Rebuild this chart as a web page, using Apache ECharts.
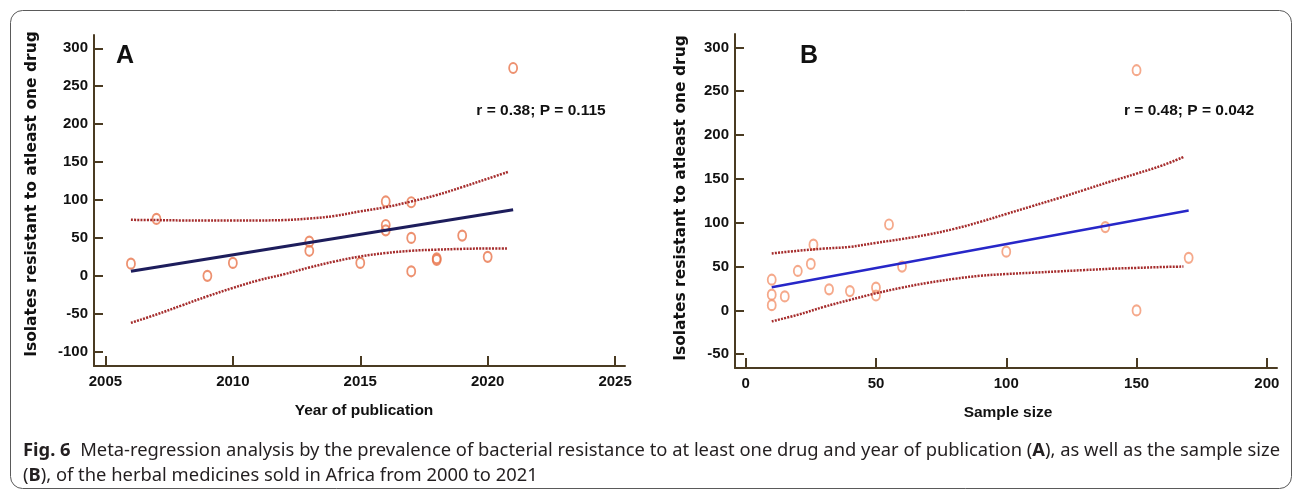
<!DOCTYPE html>
<html>
<head>
<meta charset="utf-8">
<script src="https://cdn.jsdelivr.net/npm/echarts@6/dist/echarts.min.js"></script>
<style>
html,body{margin:0;padding:0;background:#fff;}
#c{width:1296px;height:490px;}
</style>
</head>
<body>
<div id="c"></div>
<script>
// ---- Panel A: year of publication ----
const yearA    = [2006, 2007, 2009, 2010, 2013, 2013, 2015, 2016, 2016, 2016, 2017, 2017, 2017, 2018, 2018, 2019, 2020, 2021];
const resistA  = [16, 75, 0, 17, 45, 33, 17, 98, 67, 60, 97, 50, 6, 23, 21, 53, 25, 274];
const fitXA    = [2006, 2021];
const fitYA    = [6, 87];
const ciXA     = [2006, 2007, 2008, 2009, 2010, 2011, 2012, 2013, 2014, 2015, 2016, 2017, 2018, 2019, 2020, 2020.8];
const ciUpperA = [73.8, 73.5, 73, 72.8, 72.8, 73, 73.5, 75.5, 79, 85, 90.5, 98, 106.5, 117, 128, 137];
const ciLowerA = [-62, -51, -39, -27, -16, -6, 2, 11, 19, 25.5, 30, 33, 34.5, 35.5, 36, 36];
const xTicksA  = [2005, 2010, 2015, 2020, 2025];
const yTicksA  = [-100, -50, 0, 50, 100, 150, 200, 250, 300];

// ---- Panel B: sample size ----
const sizeB    = [10, 10, 10, 15, 20, 25, 26, 32, 40, 50, 50, 55, 60, 100, 138, 150, 150, 170];
const resistB  = [35, 18, 6, 16, 45, 53, 75, 24, 22, 26, 17, 98, 50, 67, 95, 0, 274, 60];
const fitXB    = [10, 170];
const fitYB    = [26.5, 114];
const ciXB     = [10, 20, 30, 40, 50, 60, 70, 80, 90, 100, 110, 120, 130, 140, 150, 160, 168];
const ciUpperB = [65, 68, 70.5, 72.5, 77, 81.5, 86.5, 93, 101, 110, 119, 128, 137.5, 147, 156, 165.5, 175];
const ciLowerB = [-12.5, -5, 4, 12, 19.5, 26, 31.5, 36, 39.5, 41.5, 43, 44.5, 46, 47.5, 48.5, 49.5, 50];
const xTicksB  = [0, 50, 100, 150, 200];
const yTicksB  = [-50, 0, 50, 100, 150, 200, 250, 300];

const labelsA = {stat: 'r = 0.38; P = 0.115', xName: 'Year of publication', panel: 'A'};
const labelsB = {stat: 'r = 0.48; P = 0.042', xName: 'Sample size', panel: 'B'};
const yTitle = 'Isolates resistant to atleast one drug';
const caption1 = ['Fig. 6', '  Meta-regression analysis by the prevalence of bacterial resistance to at least one drug and year of publication (', 'A', '), as well as the sample size'];
const caption2 = ['(', 'B', '), of the herbal medicines sold in Africa from 2000 to 2021'];

const zip = (a, b) => a.map((v, i) => [v, b[i]]);

const axisColor = '#4a3b22';
const tickFont = {fontFamily: 'Liberation Sans, Arial, sans-serif', fontWeight: 'bold', fontSize: 15, color: '#111', formatter: v => String(v)};

function xAxisCfg(grid, min, max, ticks) {
  return {
    type: 'value', gridIndex: grid, min: min, max: max,
    axisLine: {show: true, onZero: false, lineStyle: {color: axisColor, width: 2}},
    axisTick: {show: true, inside: true, length: 10, customValues: ticks, lineStyle: {color: axisColor, width: 2}},
    axisLabel: Object.assign({customValues: ticks, margin: 8}, tickFont),
    splitLine: {show: false}
  };
}
function yAxisCfg(grid, min, max, ticks) {
  return {
    type: 'value', gridIndex: grid, min: min, max: max,
    axisLine: {show: true, onZero: false, lineStyle: {color: axisColor, width: 2}},
    axisTick: {show: true, inside: true, length: 9, customValues: ticks, lineStyle: {color: axisColor, width: 2}},
    axisLabel: Object.assign({customValues: ticks, margin: 6}, tickFont),
    splitLine: {show: false}
  };
}
function scatter(idx, xs, ys, color) {
  return {type: 'scatter', xAxisIndex: idx, yAxisIndex: idx, data: zip(xs, ys), symbol: 'circle', symbolSize: [8, 10],
    itemStyle: {color: 'rgba(0,0,0,0)', borderColor: color, borderWidth: 2}, z: 2, silent: true};
}
function line(idx, xs, ys, style, smooth) {
  return {type: 'line', xAxisIndex: idx, yAxisIndex: idx, data: zip(xs, ys), showSymbol: false, smooth: smooth ? 0.4 : false,
    lineStyle: style, z: 3, silent: true};
}
const ciStyle = {color: '#a52c2c', width: 2.5, type: [2, 1.2]};

// caption: fit the first line to the box width with a horizontal scale
const capFamily = 'Noto Sans';
const capSize = 17.5;
function measure(txt, weight) {
  const cv = document.createElement('canvas').getContext('2d');
  cv.font = weight + ' ' + capSize + 'px "' + capFamily + '", sans-serif';
  return cv.measureText(txt).width;
}
const w1 = measure(caption1[0], 'bold') + measure(caption1[1], 'normal') + measure(caption1[2], 'bold') + measure(caption1[3], 'normal');
const capScale = 1257 / w1;

const chart = echarts.init(document.getElementById('c'), null, {renderer: 'canvas'});
const capRich = {
  b: {fontWeight: 'bold', fontFamily: capFamily, fontSize: capSize, fill: '#231f20'},
  n: {fontWeight: 'normal', fontFamily: capFamily, fontSize: capSize, fill: '#231f20'}
};
chart.setOption({
  animation: false,
  backgroundColor: '#fff',
  grid: [
    {left: 94, top: 35, width: 531, height: 331},
    {left: 735, top: 34, width: 542, height: 334}
  ],
  xAxis: [xAxisCfg(0, 2004.55, 2025.39, xTicksA), xAxisCfg(1, -4.1, 203.9, xTicksB)],
  yAxis: [yAxisCfg(0, -118.9, 317.5, yTicksA), yAxisCfg(1, -65.7, 315.3, yTicksB)],
  series: [
    scatter(0, yearA, resistA, '#e8764c'),
    line(0, ciXA, ciUpperA, ciStyle, true),
    line(0, ciXA, ciLowerA, ciStyle, true),
    line(0, fitXA, fitYA, {color: '#1d1d5c', width: 3}, false),
    scatter(1, sizeB, resistB, '#f2946e'),
    line(1, ciXB, ciUpperB, ciStyle, true),
    line(1, ciXB, ciLowerB, ciStyle, true),
    line(1, fitXB, fitYB, {color: '#2727c8', width: 2.6}, false)
  ],
  graphic: [
    {type: 'rect', shape: {x: 10.5, y: 10.5, width: 1281, height: 478, r: 12}, style: {fill: 'none', stroke: '#5a5a5a', lineWidth: 1}, z: 0},
    {type: 'text', x: 125, y: 56, style: {text: labelsA.panel, fontFamily: 'Liberation Sans, Arial, sans-serif', fontWeight: 'bold', fontSize: 25, fill: '#111', align: 'center', verticalAlign: 'middle'}},
    {type: 'text', x: 809, y: 56, style: {text: labelsB.panel, fontFamily: 'Liberation Sans, Arial, sans-serif', fontWeight: 'bold', fontSize: 25, fill: '#111', align: 'center', verticalAlign: 'middle'}},
    {type: 'text', x: 541, y: 111, style: {text: labelsA.stat, fontFamily: 'Liberation Sans, Arial, sans-serif', fontWeight: 'bold', fontSize: 15.5, fill: '#111', align: 'center', verticalAlign: 'middle'}},
    {type: 'text', x: 1189, y: 111, style: {text: labelsB.stat, fontFamily: 'Liberation Sans, Arial, sans-serif', fontWeight: 'bold', fontSize: 15.5, fill: '#111', align: 'center', verticalAlign: 'middle'}},
    {type: 'text', x: 364, y: 411, style: {text: labelsA.xName, fontFamily: 'Liberation Sans, Arial, sans-serif', fontWeight: 'bold', fontSize: 15.5, fill: '#111', align: 'center', verticalAlign: 'middle'}},
    {type: 'text', x: 1008, y: 413, style: {text: labelsB.xName, fontFamily: 'Liberation Sans, Arial, sans-serif', fontWeight: 'bold', fontSize: 15.5, fill: '#111', align: 'center', verticalAlign: 'middle'}},
    {type: 'text', x: 32, y: 194, rotation: Math.PI / 2, style: {text: yTitle, fontFamily: 'DejaVu Sans, sans-serif', fontWeight: 'bold', fontSize: 15.5, fill: '#111', align: 'center', verticalAlign: 'middle'}},
    {type: 'text', x: 681, y: 198, rotation: Math.PI / 2, style: {text: yTitle, fontFamily: 'DejaVu Sans, sans-serif', fontWeight: 'bold', fontSize: 15.5, fill: '#111', align: 'center', verticalAlign: 'middle'}},
    {type: 'text', x: 23, y: 451, scaleX: capScale, style: {
      text: '{b|' + caption1[0] + '}{n|' + caption1[1] + '}{b|' + caption1[2] + '}{n|' + caption1[3] + '}',
      rich: capRich, align: 'left', verticalAlign: 'middle'}},
    {type: 'text', x: 23, y: 476, scaleX: capScale, style: {
      text: '{n|' + caption2[0] + '}{b|' + caption2[1] + '}{n|' + caption2[2] + '}',
      rich: capRich, align: 'left', verticalAlign: 'middle'}}
  ]
});
</script>
</body>
</html>
